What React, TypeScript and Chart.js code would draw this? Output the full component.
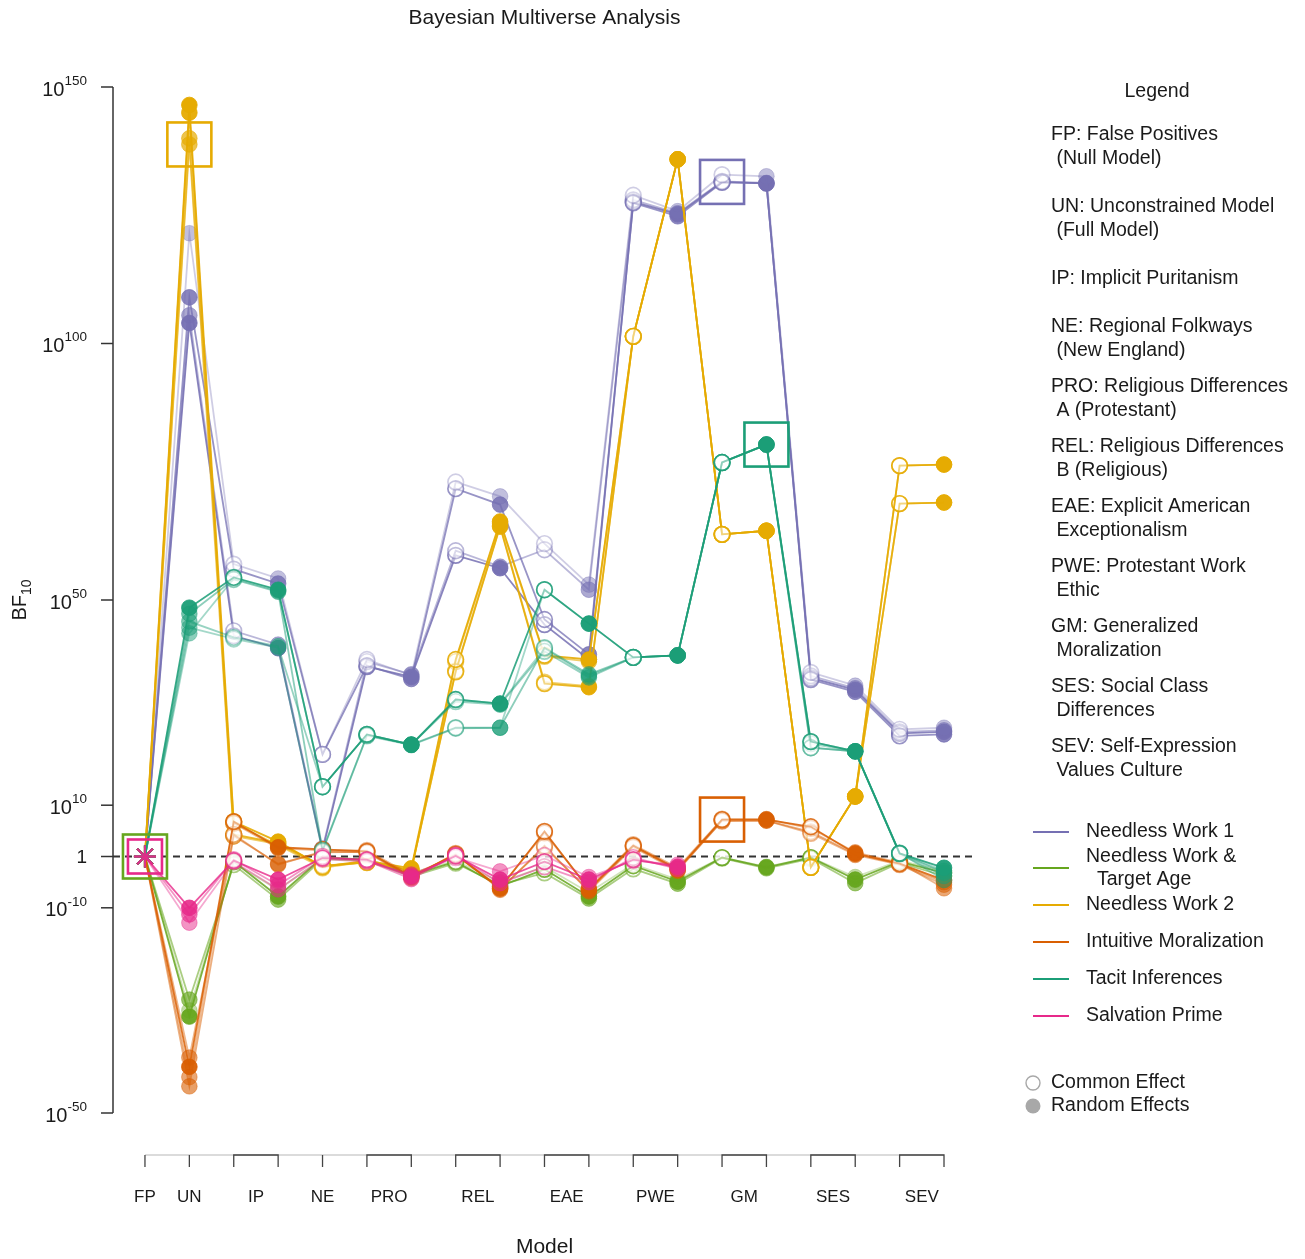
import { useEffect, useRef } from "react";
import { Chart, registerables } from "chart.js";

Chart.register(...registerables);

// Model slots on the x axis: 0 FP, 1 UN, then (common, random) pairs per model
const modelLabels = ["FP", "UN", "IP", "NE", "PRO", "REL", "EAE", "PWE", "GM", "SES", "SEV"];
const modelSlots = [[0], [1], [2, 3], [4], [5, 6], [7, 8], [9, 10], [11, 12], [13, 14], [15, 16], [17, 18]];
const randomEffectsSlots = [1, 3, 6, 8, 10, 12, 14, 16, 18];
const yTickExponents = [-50, -10, 0, 10, 50, 100, 150];

// log10(BF10) along each multiverse path (one value per slot)
const needlessWork1A = [0, 121.5, 57.0, 54.2, 19.9, 38.4, 35.3, 73.0, 70.2, 61.0, 53.0, 128.9, 125.8, 132.9, 132.6, 35.9, 33.3, 24.8, 25.1];
const needlessWork1B = [0, 109.0, 56.0, 53.2, 19.9, 37.2, 34.6, 71.7, 68.6, 46.2, 39.4, 127.4, 124.8, 131.4, 131.2, 34.5, 32.1, 23.5, 23.8];
const needlessWork1C = [0, 105.5, 44.0, 41.3, 1.5, 38.0, 35.5, 59.6, 56.5, 59.8, 52.0, 128.0, 125.4, 131.6, 131.3, 35.2, 32.8, 24.3, 24.6];
const needlessWork1D = [0, 104.0, 43.0, 40.6, 1.2, 37.0, 35.0, 58.7, 56.2, 45.2, 38.4, 127.6, 125.2, 131.5, 131.2, 34.8, 32.5, 24.0, 24.3];

const targetAgeA = [0, -31.2, -1.0, -7.8, -0.2, -0.6, -3.6, -1.0, -5.8, -2.5, -7.8, -1.8, -4.9, -0.2, -2.1, -0.2, -4.5, -1.0, -3.2];
const targetAgeB = [0, -27.9, -1.6, -8.4, -0.5, -0.8, -3.9, -1.3, -5.5, -3.2, -8.2, -2.4, -5.3, -0.3, -2.3, -0.4, -5.2, -1.2, -3.8];
const targetAgeC = [0, -30.0, -1.2, -6.5, -0.3, -0.5, -3.2, -0.8, -5.0, -2.0, -7.0, -1.5, -4.5, -0.2, -2.0, -0.2, -4.0, -0.8, -2.8];

const needlessWork2A = [0, 146.5, 6.8, 2.9, -2.0, -0.8, -2.3, 38.4, 65.3, 39.2, 38.4, 101.4, 135.9, 62.8, 63.5, -2.1, 11.7, 76.2, 76.4];
const needlessWork2B = [0, 145.0, 4.3, 2.6, -1.8, -1.2, -2.6, 36.0, 64.3, 33.7, 33.0, 101.4, 135.9, 62.8, 63.5, -2.1, 11.7, 68.8, 69.0];
const needlessWork2C = [0, 140.0, 6.5, 2.2, -2.2, -1.0, -2.8, 38.0, 65.0, 39.0, 38.0, 101.4, 135.9, 62.8, 63.5, -2.1, 11.7, 76.2, 76.4];
const needlessWork2D = [0, 138.8, 4.0, 2.4, -1.9, -1.1, -2.5, 36.2, 64.5, 34.0, 33.2, 101.4, 135.9, 62.8, 63.5, -2.1, 11.7, 68.8, 69.0];

const moralizationA = [0, -41.0, 6.8, 1.8, 1.4, 1.0, -3.9, 0.4, -6.2, 4.9, -6.4, 2.1, -2.5, 7.2, 7.2, 5.8, 0.6, -1.4, -4.6];
const moralizationB = [0, -39.2, 4.3, -1.6, 1.0, 0.8, -4.2, 0.6, -6.5, 2.1, -6.8, 1.8, -2.8, 7.0, 7.0, 4.5, 0.3, -1.6, -5.5];
const moralizationC = [0, -43.0, 6.5, 1.6, 1.2, 1.2, -3.6, 0.2, -6.0, 4.6, -6.2, 2.3, -2.2, 7.3, 7.3, 5.5, 0.8, -1.2, -6.2];
const moralizationD = [0, -44.8, 4.0, -1.4, 0.8, 0.9, -4.0, 0.5, -6.3, 1.8, -6.6, 2.0, -2.6, 6.9, 7.0, 4.8, 0.5, -1.5, -5.0];

const tacitA = [0, 48.5, 54.4, 52.0, 13.6, 23.8, 21.8, 30.6, 29.8, 52.0, 45.4, 38.8, 39.2, 76.8, 80.3, 22.4, 20.5, 0.6, -2.2];
const tacitB = [0, 47.3, 54.0, 51.6, 1.2, 23.6, 21.8, 25.1, 25.1, 40.7, 35.5, 38.8, 39.2, 76.8, 80.3, 21.2, 20.5, 0.6, -3.2];
const tacitC = [0, 45.8, 42.7, 41.0, 13.6, 23.8, 21.8, 30.2, 29.6, 40.0, 34.9, 38.8, 39.2, 76.8, 80.3, 22.4, 20.5, 0.5, -3.8];
const tacitD = [0, 44.6, 42.4, 40.7, 1.0, 23.5, 21.7, 25.0, 25.1, 52.0, 45.4, 38.8, 39.2, 76.8, 80.3, 21.2, 20.5, 0.7, -4.6];
const tacitE = [0, 43.5, 54.2, 51.8, 13.6, 23.8, 21.8, 30.6, 29.8, 40.5, 35.2, 38.8, 39.2, 76.8, 80.3, 22.0, 20.5, 0.6, -2.8];

const salvationA = [0, -10.0, -0.8, -4.5, -0.3, -0.6, -3.9, 0.1, -4.5, -1.0, -4.5, -0.6, -2.0];
const salvationB = [0, -11.3, -0.6, -5.6, 0.0, -0.8, -4.4, 0.3, -5.2, -2.0, -5.0, -0.2, -2.4];
const salvationC = [0, -12.9, -1.0, -6.4, -0.5, -1.0, -3.5, -0.2, -2.9, 0.2, -4.0, -0.8, -1.6];

// Series (legend order) and their best-supported model
const seriesNames = ["Needless Work 1", "Needless Work &", "Needless Work 2", "Intuitive Moralization", "Tacit Inferences", "Salvation Prime"];
const seriesColors = [[117, 112, 179], [102, 166, 30], [230, 171, 2], [217, 95, 2], [27, 158, 119], [231, 41, 138]];
const seriesPaths = [
  [needlessWork1A, needlessWork1B, needlessWork1C, needlessWork1D],
  [targetAgeA, targetAgeB, targetAgeC],
  [needlessWork2A, needlessWork2B, needlessWork2C, needlessWork2D],
  [moralizationA, moralizationB, moralizationC, moralizationD],
  [tacitA, tacitB, tacitC, tacitD, tacitE],
  [salvationA, salvationB, salvationC],
];
const pathOpacity = [
  [0.35, 0.75, 0.5, 0.85],
  [0.85, 0.55, 0.3],
  [0.9, 0.85, 0.6, 0.6],
  [0.85, 0.45, 0.45, 0.5],
  [0.85, 0.5, 0.45, 0.4, 0.4],
  [0.8, 0.5, 0.4],
];
const bestModelSlot = [13, 0, 1, 13, 14, 0];
const bestModelValue = [131.5, 0, 138.8, 7.2, 80.3, 0];

const modelDescriptions = [
  ["FP: False Positives", " (Null Model)"],
  ["UN: Unconstrained Model", " (Full Model)"],
  ["IP: Implicit Puritanism"],
  ["NE: Regional Folkways", " (New England)"],
  ["PRO: Religious Differences", " A (Protestant)"],
  ["REL: Religious Differences", " B (Religious)"],
  ["EAE: Explicit American", " Exceptionalism"],
  ["PWE: Protestant Work", " Ethic"],
  ["GM: Generalized", " Moralization"],
  ["SES: Social Class", " Differences"],
  ["SEV: Self-Expression", " Values Culture"],
];

const FONT = '"Liberation Sans", Arial, Helvetica, sans-serif';
const rgba = (c: number[], a: number) => `rgba(${c[0]},${c[1]},${c[2]},${a})`;

function buildDatasets() {
  const out: any[] = [];
  seriesPaths.forEach((paths, si) => {
    const color = seriesColors[si];
    paths.forEach((path, pi) => {
      const a = pathOpacity[si][pi];
      const pts = path.map((v, i) => ({ x: i, y: v }));
      out.push({
        data: pts,
        order: 10 - si,
        borderColor: rgba(color, a),
        borderWidth: 1.8,
        tension: 0,
        fill: false,
        clip: false,
        pointStyle: pts.map((p) => (p.x === 0 ? "star" : "circle")),
        pointRadius: pts.map((p) => (p.x === 0 ? 11 : 7.8)),
        pointBackgroundColor: pts.map((p) =>
          randomEffectsSlots.includes(p.x) ? rgba(color, Math.min(1, a + 0.1)) : "rgba(255,255,255,0.45)"
        ),
        pointBorderColor: pts.map((p) => (p.x === 0 ? rgba(color, 0.6) : rgba(color, a))),
        pointBorderWidth: pts.map((p) => (p.x === 0 ? 2 : randomEffectsSlots.includes(p.x) ? 1 : 1.7)),
      });
    });
  });
  return out;
}

function drawPow(ctx: CanvasRenderingContext2D, exp: number, xRight: number, yMid: number) {
  ctx.textAlign = "right";
  ctx.textBaseline = "middle";
  if (exp === 0) {
    ctx.font = `19px ${FONT}`;
    ctx.fillText("1", xRight, yMid + 1);
    return;
  }
  const sup = String(exp);
  ctx.font = `13.5px ${FONT}`;
  const w = ctx.measureText(sup).width;
  ctx.fillText(sup, xRight, yMid - 6);
  ctx.font = `20px ${FONT}`;
  ctx.fillText("10", xRight - w, yMid + 3);
}

const decorPlugin = {
  id: "decor",
  beforeDatasetsDraw(chart: any) {
    const { ctx } = chart;
    const x = chart.scales.x;
    const y = chart.scales.y;
    ctx.save();
    ctx.setLineDash([7, 5]);
    ctx.strokeStyle = "#333";
    ctx.lineWidth = 2;
    const y0 = y.getPixelForValue(0);
    ctx.beginPath();
    ctx.moveTo(chart.chartArea.left, y0);
    ctx.lineTo(x.getPixelForValue(18.7), y0);
    ctx.stroke();
    ctx.restore();
  },
  afterDatasetsDraw(chart: any) {
    const { ctx } = chart;
    const x = chart.scales.x;
    const y = chart.scales.y;
    const left = chart.chartArea.left;
    ctx.save();

    // best-model boxes
    bestModelSlot.forEach((slot, si) => {
      const cx = x.getPixelForValue(slot);
      const cy = y.getPixelForValue(bestModelValue[si]);
      const half = si === 5 ? 17 : 22;
      ctx.strokeStyle = rgba(seriesColors[si], 1);
      ctx.lineWidth = 2.6;
      ctx.strokeRect(cx - half, cy - half, half * 2, half * 2);
    });

    // y axis
    ctx.strokeStyle = "#333";
    ctx.lineWidth = 1.5;
    ctx.beginPath();
    ctx.moveTo(left, y.getPixelForValue(150));
    ctx.lineTo(left, y.getPixelForValue(-50));
    ctx.stroke();
    ctx.fillStyle = "#1a1a1a";
    yTickExponents.forEach((e) => {
      const py = y.getPixelForValue(e);
      ctx.beginPath();
      ctx.moveTo(left - 12, py);
      ctx.lineTo(left, py);
      ctx.stroke();
      drawPow(ctx, e, left - 26, py);
    });

    // y title BF10
    ctx.save();
    ctx.translate(20, y.getPixelForValue(50));
    ctx.rotate(-Math.PI / 2);
    ctx.font = `20px ${FONT}`;
    const wBF = ctx.measureText("BF").width;
    ctx.font = `14px ${FONT}`;
    const wSub = ctx.measureText("10").width;
    const start = -(wBF + wSub) / 2;
    ctx.textAlign = "left";
    ctx.textBaseline = "middle";
    ctx.font = `20px ${FONT}`;
    ctx.fillText("BF", start, 0);
    ctx.font = `14px ${FONT}`;
    ctx.fillText("10", start + wBF, 7);
    ctx.restore();

    // x axis with paired brackets
    const axisY = 1155;
    ctx.strokeStyle = "#cfcfcf";
    ctx.lineWidth = 1.5;
    ctx.beginPath();
    ctx.moveTo(x.getPixelForValue(0), axisY);
    ctx.lineTo(x.getPixelForValue(18), axisY);
    ctx.stroke();
    ctx.strokeStyle = "#444";
    ctx.lineWidth = 1.3;
    modelSlots.forEach((slots, mi) => {
      ctx.beginPath();
      if (slots.length === 2) {
        ctx.moveTo(x.getPixelForValue(slots[0]), axisY + 12);
        ctx.lineTo(x.getPixelForValue(slots[0]), axisY);
        ctx.lineTo(x.getPixelForValue(slots[1]), axisY);
        ctx.lineTo(x.getPixelForValue(slots[1]), axisY + 12);
      } else {
        ctx.moveTo(x.getPixelForValue(slots[0]), axisY);
        ctx.lineTo(x.getPixelForValue(slots[0]), axisY + 12);
      }
      ctx.stroke();
      const mid = slots.reduce((s, v) => s + v, 0) / slots.length;
      ctx.font = `17px ${FONT}`;
      ctx.textAlign = "center";
      ctx.textBaseline = "middle";
      ctx.fillText(modelLabels[mi], x.getPixelForValue(mid), 1197);
    });

    ctx.font = `21px ${FONT}`;
    ctx.textAlign = "center";
    ctx.textBaseline = "middle";
    ctx.fillText("Model", x.getPixelForValue(9), 1247);
    ctx.fillText("Bayesian Multiverse Analysis", x.getPixelForValue(9), 18);

    // legend: model descriptions
    ctx.font = `19.5px ${FONT}`;
    ctx.fillText("Legend", 1157, 92);
    ctx.textAlign = "left";
    const descY = [135, 207, 279, 327, 387, 447, 507, 567, 627, 687, 747];
    modelDescriptions.forEach((lines, i) => {
      lines.forEach((t, k) => ctx.fillText(t, 1051, descY[i] + k * 24));
    });

    // legend: series
    const serY = [832, 868, 905, 942, 979, 1016];
    seriesNames.forEach((name, i) => {
      ctx.strokeStyle = rgba(seriesColors[i], 1);
      ctx.lineWidth = 2.2;
      ctx.beginPath();
      ctx.moveTo(1033, serY[i]);
      ctx.lineTo(1069, serY[i]);
      ctx.stroke();
      if (i === 1) {
        ctx.fillText(name, 1086, 857);
        ctx.fillText("Target Age", 1097, 880);
      } else {
        ctx.fillText(name, 1086, serY[i]);
      }
    });

    // legend: marker types
    ctx.strokeStyle = "#a8a8a8";
    ctx.lineWidth = 1.4;
    ctx.beginPath();
    ctx.arc(1033, 1083, 7, 0, Math.PI * 2);
    ctx.stroke();
    ctx.fillStyle = "#a8a8a8";
    ctx.beginPath();
    ctx.arc(1033, 1106, 7.5, 0, Math.PI * 2);
    ctx.fill();
    ctx.fillStyle = "#1a1a1a";
    ctx.fillText("Common Effect", 1051, 1083);
    ctx.fillText("Random Effects", 1051, 1106);

    ctx.restore();
  },
};

export default function App() {
  const canvasRef = useRef<HTMLCanvasElement | null>(null);

  useEffect(() => {
    if (!canvasRef.current) return;
    const chart = new Chart(canvasRef.current, {
      type: "line",
      data: { datasets: buildDatasets() },
      options: {
        animation: false,
        responsive: false,
        events: [],
        layout: { padding: { left: 113, top: 87, right: 338.8, bottom: 146 } },
        scales: {
          x: { type: "linear", display: false, min: -0.72, max: 18.5 },
          y: { type: "linear", display: false, min: -50, max: 150 },
        },
        plugins: { legend: { display: false }, tooltip: { enabled: false }, title: { display: false } },
      },
      plugins: [decorPlugin],
    });
    return () => chart.destroy();
  }, []);

  return (
    <div style={{ position: "absolute", left: 0, top: 0, width: 1305, height: 1259, background: "#fff" }}>
      <canvas ref={canvasRef} width={1305} height={1259} style={{ display: "block" }} />
    </div>
  );
}
